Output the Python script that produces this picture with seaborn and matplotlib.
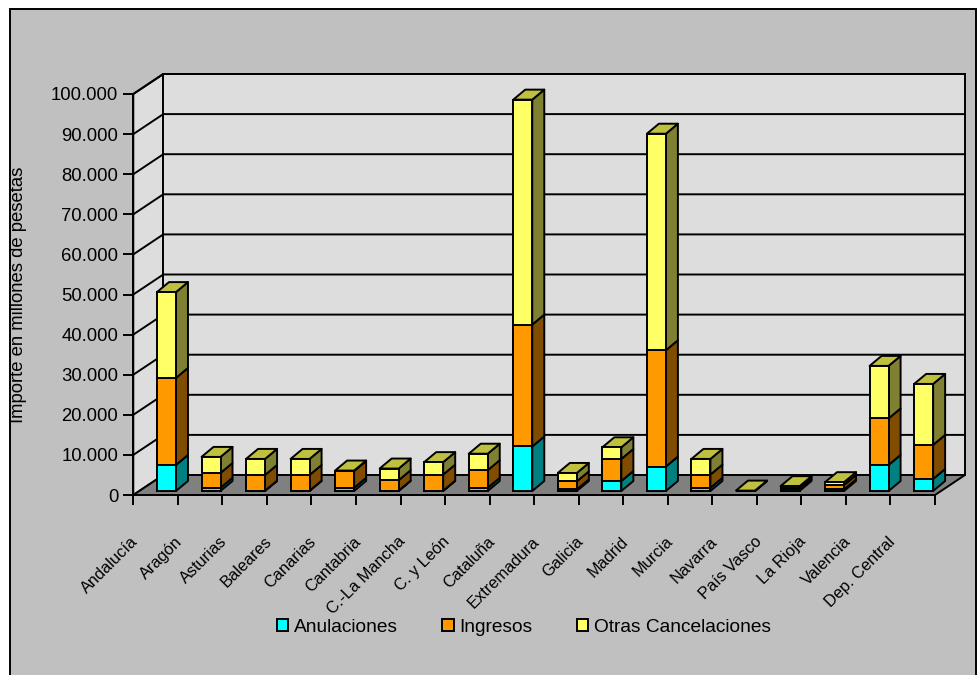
import numpy as np
import matplotlib
matplotlib.use("Agg")
import matplotlib.pyplot as plt
import seaborn as sns
from matplotlib import transforms
from matplotlib.patches import Polygon, Rectangle, Patch
from matplotlib import font_manager as fm

# Datos (millones de pesetas)
regiones = ["Andalucía", "Aragón", "Asturias", "Baleares", "Canarias", "Cantabria",
            "C.-La Mancha", "C. y León", "Cataluña", "Extremadura", "Galicia", "Madrid",
            "Murcia", "Navarra", "País Vasco", "La Rioja", "Valencia", "Dep. Central"]
anulaciones = [6500, 800, 100, 100, 800, 100, 100, 800, 11100, 400, 2500, 6100,
               800, 0, 400, 400, 6500, 3000]
ingresos = [21700, 3700, 3900, 3900, 4200, 2600, 4000, 4400, 30400, 2000, 5500, 29000,
            3300, 0, 400, 1100, 11600, 8500]
otras = [21400, 4000, 4000, 4000, 100, 2900, 3100, 4100, 56100, 2100, 2900, 54000,
         3900, 100, 400, 700, 13100, 15200]
series = ["Anulaciones", "Ingresos", "Otras Cancelaciones"]
yticks = list(range(0, 100001, 10000))

# Colores (cara frontal, cara lateral, cara superior)
front_cols = ["#00FFFF", "#FF9900", "#FFFF66"]
side_cols = ["#008080", "#804C00", "#808033"]
top_col = "#BFBF40"
wall_col = "#DDDDDD"
floor_col = "#808080"
bg_col = "#C0C0C0"

W_PX, H_PX = 978, 675
FONT = "Liberation Sans"
try:
    fm.findfont(fm.FontProperties(family="Liberation Sans Narrow"), fallback_to_default=False)
    XFONT, XSIZE = "Liberation Sans Narrow", 13
except Exception:
    XFONT, XSIZE = "Liberation Sans", 11.8
plt.rcParams["font.family"] = [FONT, "DejaVu Sans"]

LW = 1.4
fig = plt.figure(figsize=(W_PX / 100, H_PX / 100), dpi=100, facecolor="white")
fig.add_artist(Rectangle((10 / W_PX, -0.02), 966 / W_PX, 1.02 - 9 / H_PX,
                         transform=fig.transFigure, facecolor=bg_col,
                         edgecolor="black", linewidth=LW, zorder=-5))

# Front plane of the 3D box
ax_l, ax_r, ax_b, ax_t = 133.3, 935.0, 495.0, 94.0
ax = fig.add_axes([ax_l / W_PX, (H_PX - ax_b) / H_PX, (ax_r - ax_l) / W_PX,
                   (ax_b - ax_t) / H_PX])
ax.set_facecolor("none")

n = len(regiones)
x0, x1 = -0.5, n - 0.5
ymax = 100000
px_x = (ax_r - ax_l) / n          # pixels per category
px_y = (ax_b - ax_t) / ymax       # pixels per unit
DX, DY = 30 / px_x, 20 / px_y     # depth of the floor / walls
SX, SY = 12 / px_x, 10 / px_y     # depth of each bar
BX, BY = 10.9 / px_x, 4 / px_y    # bar placement inside the box
W = 19 / px_x                     # bar width

# Walls and floor
wall_kw = dict(edgecolor="black", linewidth=LW, clip_on=False, zorder=0.5)
ax.add_patch(Polygon([(x0, 0), (x0, ymax), (x0 + DX, ymax + DY), (x0 + DX, DY)],
                     facecolor=wall_col, **wall_kw))
ax.add_patch(Polygon([(x0 + DX, DY), (x1 + DX, DY), (x1 + DX, ymax + DY), (x0 + DX, ymax + DY)],
                     facecolor=wall_col, **wall_kw))
ax.add_patch(Polygon([(x0, 0), (x1, 0), (x1 + DX, DY), (x0 + DX, DY)],
                     facecolor=floor_col, **wall_kw))
for v in yticks[1:]:
    ax.plot([x0, x0 + DX, x1 + DX], [v, v + DY, v + DY], color="black",
            linewidth=LW, clip_on=False, zorder=0.6)

# Front faces: stacked bars drawn from the cumulative totals
an = np.array(anulaciones, float)
ig = np.array(ingresos, float)
ot = np.array(otras, float)
cum = [an, an + ig, an + ig + ot]
for k in (2, 1, 0):
    sns.barplot(x=regiones, y=cum[k], order=regiones, color=front_cols[k], saturation=1,
                width=W, edgecolor="black", linewidth=LW, ax=ax, zorder=3)
shift = transforms.Affine2D().translate(BX, BY) + ax.transData
for p in ax.patches:
    if isinstance(p, Rectangle):
        p.set_transform(shift)
        p.set_clip_on(False)

# Side and top faces
lows = [np.zeros(n), cum[0], cum[1]]
for i in range(n):
    xr = i + W / 2
    xl = i - W / 2
    for k in range(3):
        lo, hi = lows[k][i], cum[k][i]
        ax.add_patch(Polygon([(xr, lo), (xr, hi), (xr + SX, hi + SY), (xr + SX, lo + SY)],
                             facecolor=side_cols[k], edgecolor="black", linewidth=LW,
                             transform=shift, clip_on=False, zorder=2.5,
                             joinstyle="round"))
    T = cum[2][i]
    ax.add_patch(Polygon([(xl, T), (xr, T), (xr + SX, T + SY), (xl + SX, T + SY)],
                         facecolor=top_col, edgecolor="black", linewidth=LW,
                         transform=shift, clip_on=False, zorder=2.6, joinstyle="round"))

# Axes
ax.set_xlim(x0, x1)
ax.set_ylim(0, ymax)
ax.set_xlabel("")
ax.set_xticks(np.arange(x0, x1 + 0.01, 1))
ax.set_xticklabels([])
ax.set_yticks(yticks)
ax.set_yticklabels([f"{v:,.0f}".replace(",", ".") for v in yticks],
                   fontsize=13.3, family=FONT)
ax.tick_params(axis="both", direction="out", length=7.2, width=LW, color="black", pad=3.6)
for s in ("top", "right"):
    ax.spines[s].set_visible(False)
for s in ("left", "bottom"):
    ax.spines[s].set_linewidth(LW)
    ax.spines[s].set_zorder(4)
ax.grid(False)
ax.set_ylabel("Importe en millones de pesetas", fontsize=13.3, family=FONT)
ax.yaxis.set_label_coords((27 - ax_l) / (ax_r - ax_l), 0.5)

lab_tr = transforms.offset_copy(ax.transData, fig=fig, x=-3, y=-39, units="dots")
for i, name in enumerate(regiones):
    ax.text(i - 0.5, 0, name, transform=lab_tr, rotation=45, ha="right", va="top",
            rotation_mode="anchor", fontsize=XSIZE, family=XFONT, clip_on=False)

handles = [Patch(facecolor=c, edgecolor="black", linewidth=LW) for c in front_cols]
fig.legend(handles, series, loc="center", bbox_to_anchor=(524 / W_PX, (H_PX - 627) / H_PX),
           ncol=3, frameon=False, fontsize=13.8, handlelength=0.6, handleheight=0.6,
           handletextpad=0.3, columnspacing=2.3, borderpad=0)

fig.savefig("out.png", dpi=100, facecolor=fig.get_facecolor())
